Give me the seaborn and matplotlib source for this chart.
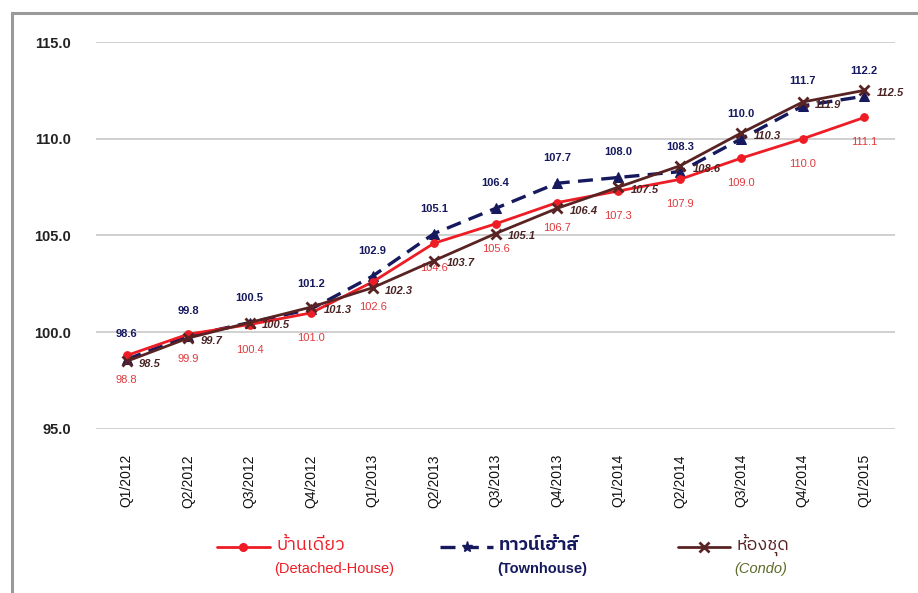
import numpy as np
import pandas as pd
import matplotlib
matplotlib.use("Agg")
import matplotlib.pyplot as plt
import seaborn as sns
from matplotlib import font_manager
from matplotlib.ft2font import FT2Font
from matplotlib.lines import Line2D
from matplotlib.patches import Rectangle

# ---------------- data ----------------
quarters = ["Q1/2012", "Q2/2012", "Q3/2012", "Q4/2012", "Q1/2013", "Q2/2013", "Q3/2013",
            "Q4/2013", "Q1/2014", "Q2/2014", "Q3/2014", "Q4/2014", "Q1/2015"]
detached = [98.8, 99.9, 100.4, 101.0, 102.6, 104.6, 105.6, 106.7, 107.3, 107.9, 109.0, 110.0, 111.1]
townhouse = [98.6, 99.8, 100.5, 101.2, 102.9, 105.1, 106.4, 107.7, 108.0, 108.3, 110.0, 111.7, 112.2]
condo = [98.5, 99.7, 100.5, 101.3, 102.3, 103.7, 105.1, 106.4, 107.5, 108.6, 110.3, 111.9, 112.5]
series_th = ["บ้านเดี่ยว", "ทาวน์เฮ้าส์", "ห้องชุด"]
series_en = ["(Detached-House)", "(Townhouse)", "(Condo)"]
yticks = [95.0, 100.0, 105.0, 110.0, 115.0]

# ---------------- fonts ----------------
def find_thai_family():
    best = None
    for f in font_manager.fontManager.ttflist:
        try:
            cm = FT2Font(f.fname).get_charmap()
        except Exception:
            continue
        if ord("บ") in cm and ord("้") in cm and ord("ี") in cm:
            if "Sans" in f.name:
                return f.name
            if best is None:
                best = f.name
    return best

sns.set_theme(style="white")
thai = find_thai_family()
base = ["Liberation Sans", "DejaVu Sans"]
plt.rcParams["font.family"] = base
thai_fam = ([thai] if thai else []) + base

RED = "#ee1c24"
NAVY = "#16195e"
BROWN = "#5a2323"
RED_LBL = "#e0393c"
BROWN_LBL = "#4a2424"
GREEN = "#5c6b2a"

fig = plt.figure(figsize=(9.18, 5.93), dpi=100)
ax = fig.add_axes([96 / 918, 1 - 429 / 593, (895 - 96) / 918, (429 - 42) / 593])

x = np.arange(len(quarters))
df = pd.DataFrame({"x": x, "detached": detached, "townhouse": townhouse, "condo": condo})

for yv in yticks:
    ax.axhline(yv, color="#c4c4c4", lw=1.1, zorder=0)

sns.lineplot(data=df, x="x", y="detached", ax=ax, color=RED, lw=2.0, marker="o",
             markersize=5.5, markeredgecolor=RED, zorder=3)
sns.lineplot(data=df, x="x", y="townhouse", ax=ax, color=NAVY, lw=2.4, marker="^",
             markersize=7, markeredgecolor=NAVY, linestyle=(0, (4.5, 2.5)), zorder=2)
sns.lineplot(data=df, x="x", y="condo", ax=ax, color=BROWN, lw=2.0, marker="x",
             markersize=6.5, markeredgewidth=2, markeredgecolor=BROWN, zorder=4)

for xi, v in zip(x, detached):
    ax.annotate(f"{v:.1f}", (xi, v), xytext=(0, -18), textcoords="offset points",
                ha="center", va="center", fontsize=8, color=RED_LBL)
for xi, v in zip(x, townhouse):
    ax.annotate(f"{v:.1f}", (xi, v), xytext=(0, 18), textcoords="offset points",
                ha="center", va="center", fontsize=8, color=NAVY, fontweight="bold")
for xi, v in zip(x, condo):
    ax.annotate(f"{v:.1f}", (xi, v), xytext=(9, -2), textcoords="offset points",
                ha="left", va="center", fontsize=8, color=BROWN_LBL, fontweight="bold",
                fontstyle="italic")

ax.set_xlim(-0.5, len(quarters) - 0.5)
ax.set_ylim(95, 115)
ax.set_yticks(yticks)
ax.set_yticklabels([f"{v:.1f}" for v in yticks], fontsize=10.5, fontweight="bold", color="#222222")
ax.set_xticks(x)
ax.set_xticklabels(quarters, rotation=90, fontsize=10, color="#111111")
ax.tick_params(axis="y", length=0, pad=18)
ax.tick_params(axis="x", length=0, pad=18)
ax.set_xlabel("")
ax.set_ylabel("")
for s in ax.spines.values():
    s.set_visible(False)
ax.grid(False)

# ---------------- legend (bottom) ----------------
def fx(px):
    return px / 918

def fy(py):
    return 1 - py / 593

leg = [
    (217, 270, RED, "-", "o", 5.5, 2.0, series_th[0], series_en[0], RED, RED, "normal", "normal", "normal"),
    (440, 493, NAVY, (0, (4.5, 2.5)), "*", 8, 2.4, series_th[1], series_en[1], NAVY, NAVY, "bold", "bold", "normal"),
    (678, 730, BROWN, "-", "x", 6.5, 2.0, series_th[2], series_en[2], BROWN, GREEN, "normal", "normal", "italic"),
]
for x0, x1, c, ls, mk, ms, lw, th, en, tc, ec, tw, ew, st in leg:
    xm = (x0 + x1) / 2
    ln = Line2D([fx(x0), fx(xm), fx(x1)], [fy(547)] * 3, transform=fig.transFigure,
                color=c, linestyle=ls, lw=lw, marker=mk, markersize=ms, markevery=[1],
                markeredgewidth=2 if mk == "x" else 1, markeredgecolor=c, markerfacecolor=c)
    fig.add_artist(ln)
    fig.text(fx(x1 + 6), fy(545), th, ha="left", va="center", fontsize=13, color=tc,
             family=thai_fam, fontweight=tw, fontstyle=st)
    fig.text(fx(x1 + 4), fy(569), en, ha="left", va="center", fontsize=10.5, color=ec,
             fontweight=ew, fontstyle=st)

# figure border
fig.add_artist(Rectangle((12 / 918, -0.05), 1.2, 1.05 - 13 / 593, transform=fig.transFigure,
                         fill=False, edgecolor="#9a9a9a", lw=2.2))

fig.savefig("out.png", dpi=100)
